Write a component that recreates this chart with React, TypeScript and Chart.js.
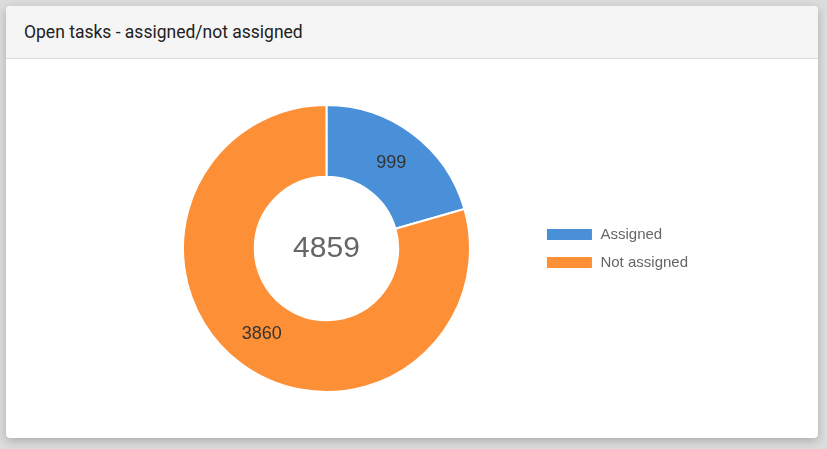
import React, { useEffect, useRef } from "react";
import { Chart, registerables } from "chart.js";

Chart.register(...registerables);

const title = "Open tasks - assigned/not assigned";
const categories = ["Assigned", "Not assigned"];
const values = [999, 3860];
const colors = ["#4a90d9", "#fd8f36"];

const total = values.reduce((a, b) => a + b, 0);

const labelsPlugin = {
  id: "donutLabels",
  afterDatasetsDraw(chart: any) {
    const ctx = chart.ctx;
    const meta = chart.getDatasetMeta(0);
    ctx.save();
    ctx.textAlign = "center";
    ctx.textBaseline = "middle";
    ctx.fillStyle = "#333333";
    ctx.font = "18px 'Liberation Sans', Arial, sans-serif";
    meta.data.forEach((arc: any, i: number) => {
      const p = arc.tooltipPosition();
      ctx.fillText(String(values[i]), p.x, p.y);
    });
    const a0 = meta.data[0];
    ctx.fillStyle = "#666666";
    ctx.font = "30px 'Liberation Sans', Arial, sans-serif";
    ctx.fillText(String(total), a0.x, a0.y);
    ctx.restore();
  },
};

export default function App() {
  const ref = useRef<HTMLCanvasElement | null>(null);
  useEffect(() => {
    if (!ref.current) return;
    const chart = new Chart(ref.current, {
      type: "doughnut",
      data: {
        labels: categories,
        datasets: [
          {
            data: values,
            backgroundColor: colors,
            borderColor: "#ffffff",
            borderWidth: 2,
          },
        ],
      },
      options: {
        animation: false,
        responsive: true,
        maintainAspectRatio: false,
        cutout: "50%",
        plugins: {
          tooltip: { enabled: false },
          legend: {
            position: "right",
            labels: {
              boxWidth: 47,
              boxHeight: 13,
              padding: 13,
              color: "#666666",
              font: { size: 15, family: "'Liberation Sans', Arial, sans-serif" },
            },
          },
        },
      },
      plugins: [labelsPlugin],
    });
    return () => chart.destroy();
  }, []);

  return (
    <div
      style={{
        position: "fixed",
        inset: 0,
        background: "#dcdcdc",
        overflow: "hidden",
      }}
    >
      <div
        style={{
          position: "absolute",
          left: 6,
          top: 6,
          width: 812,
          height: 432,
          background: "#ffffff",
          borderRadius: 4,
          boxShadow: "0 3px 10px rgba(0,0,0,0.22)",
          overflow: "hidden",
        }}
      >
        <div
          style={{
            height: 52,
            background: "#f5f5f5",
            borderBottom: "1px solid #dcdcdc",
            fontFamily: "Roboto, sans-serif",
            fontSize: 17.5,
            color: "#212121",
            lineHeight: "52px",
            paddingLeft: 18,
          }}
        >
          {title}
        </div>
      </div>
      <div
        style={{
          position: "absolute",
          left: 120,
          top: 104,
          width: 578,
          height: 289,
        }}
      >
        <canvas ref={ref} />
      </div>
    </div>
  );
}
